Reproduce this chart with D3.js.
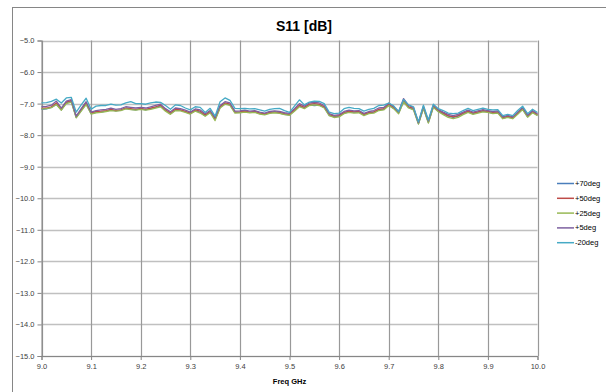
<!DOCTYPE html>
<meta charset="utf-8">
<style>
body { margin: 0; background: #fff; }
text { font-family: "Liberation Sans", Arial, sans-serif; }
.tick text { fill: #404040; font-size: 7.5px; }
</style>
<svg width="606" height="392"></svg>
<script src="https://d3js.org/d3.v7.min.js"></script>
<script>

var svg = d3.select("svg"),
    width = +svg.attr("width"),
    height = +svg.attr("height");

// frequency grid, 0.01 GHz steps from 9.0 to 10.0
var freqs = d3.range(101).map(function(i) { return 9 + i * 0.01; });

var s70 = [-7.18,-7.17,-7.12,-7.02,-7.20,-6.98,-6.92,-7.44,-7.22,-7.00,
  -7.32,-7.28,-7.27,-7.24,-7.20,-7.23,-7.21,-7.15,-7.18,-7.20,
  -7.17,-7.20,-7.16,-7.12,-7.08,-7.22,-7.32,-7.20,-7.21,-7.26,
  -7.32,-7.22,-7.28,-7.38,-7.27,-7.50,-7.12,-7.00,-7.04,-7.28,
  -7.28,-7.26,-7.28,-7.26,-7.32,-7.34,-7.29,-7.27,-7.30,-7.34,
  -7.36,-7.22,-7.08,-7.14,-7.04,-7.06,-7.05,-7.12,-7.37,-7.42,
  -7.40,-7.30,-7.26,-7.27,-7.27,-7.35,-7.30,-7.27,-7.20,-7.18,
  -7.05,-7.15,-7.30,-6.93,-7.12,-7.18,-7.64,-7.14,-7.60,-7.10,
  -7.24,-7.32,-7.40,-7.44,-7.40,-7.32,-7.26,-7.32,-7.28,-7.24,
  -7.27,-7.30,-7.28,-7.47,-7.42,-7.46,-7.32,-7.17,-7.42,-7.27,
  -7.37];

var s50 = [-7.15,-7.14,-7.10,-6.98,-7.18,-6.95,-6.90,-7.42,-7.20,-6.98,
  -7.30,-7.25,-7.24,-7.22,-7.18,-7.22,-7.20,-7.14,-7.16,-7.18,
  -7.15,-7.18,-7.14,-7.10,-7.05,-7.20,-7.30,-7.18,-7.20,-7.25,
  -7.30,-7.20,-7.24,-7.36,-7.25,-7.48,-7.10,-6.98,-7.02,-7.27,
  -7.26,-7.24,-7.27,-7.25,-7.30,-7.33,-7.28,-7.26,-7.28,-7.32,
  -7.34,-7.20,-7.05,-7.12,-7.02,-7.00,-7.02,-7.10,-7.35,-7.40,
  -7.38,-7.28,-7.24,-7.26,-7.25,-7.34,-7.28,-7.26,-7.18,-7.16,
  -7.02,-7.12,-7.28,-6.90,-7.10,-7.15,-7.62,-7.12,-7.58,-7.08,
  -7.22,-7.30,-7.38,-7.42,-7.38,-7.30,-7.24,-7.30,-7.26,-7.22,
  -7.25,-7.28,-7.26,-7.45,-7.40,-7.45,-7.30,-7.15,-7.40,-7.25,
  -7.35];

var s25 = [-7.17,-7.16,-7.13,-7.03,-7.21,-7.00,-6.95,-7.45,-7.24,-7.03,
  -7.33,-7.29,-7.28,-7.25,-7.22,-7.24,-7.22,-7.17,-7.19,-7.21,
  -7.18,-7.21,-7.18,-7.14,-7.10,-7.24,-7.34,-7.22,-7.23,-7.28,
  -7.33,-7.24,-7.30,-7.40,-7.29,-7.54,-7.14,-7.02,-7.06,-7.30,
  -7.29,-7.27,-7.29,-7.28,-7.33,-7.36,-7.31,-7.29,-7.31,-7.35,
  -7.37,-7.24,-7.10,-7.16,-7.06,-7.04,-7.06,-7.14,-7.38,-7.44,
  -7.42,-7.32,-7.28,-7.30,-7.29,-7.38,-7.32,-7.30,-7.22,-7.20,
  -7.06,-7.16,-7.32,-6.95,-7.14,-7.20,-7.65,-7.16,-7.62,-7.12,
  -7.26,-7.35,-7.44,-7.48,-7.44,-7.35,-7.28,-7.34,-7.30,-7.26,
  -7.28,-7.32,-7.30,-7.48,-7.44,-7.48,-7.34,-7.19,-7.43,-7.29,
  -7.38];

var s5 = [-7.10,-7.09,-7.05,-6.92,-7.14,-6.92,-6.87,-7.40,-7.16,-6.94,
  -7.27,-7.22,-7.20,-7.18,-7.14,-7.18,-7.16,-7.10,-7.12,-7.14,
  -7.12,-7.14,-7.10,-7.06,-7.02,-7.16,-7.26,-7.14,-7.16,-7.21,
  -7.27,-7.17,-7.20,-7.32,-7.22,-7.44,-7.06,-6.94,-6.98,-7.24,
  -7.23,-7.21,-7.24,-7.22,-7.27,-7.30,-7.25,-7.23,-7.25,-7.29,
  -7.31,-7.16,-7.00,-7.08,-6.98,-6.96,-6.98,-7.06,-7.32,-7.37,
  -7.35,-7.25,-7.21,-7.23,-7.22,-7.31,-7.25,-7.22,-7.14,-7.12,
  -6.99,-7.09,-7.26,-6.84,-7.06,-7.12,-7.60,-7.08,-7.55,-7.04,
  -7.19,-7.27,-7.34,-7.38,-7.34,-7.27,-7.21,-7.27,-7.23,-7.19,
  -7.22,-7.25,-7.23,-7.42,-7.37,-7.42,-7.27,-7.12,-7.37,-7.22,
  -7.32];

var sm20 = [-6.98,-6.97,-6.93,-6.86,-6.98,-6.82,-6.80,-7.27,-7.04,-6.83,
  -7.18,-7.08,-7.06,-7.06,-7.02,-7.05,-7.04,-6.98,-6.94,-7.00,
  -7.00,-7.02,-6.98,-6.95,-6.96,-7.06,-7.18,-7.04,-7.06,-7.14,
  -7.20,-7.10,-7.12,-7.28,-7.15,-7.40,-6.94,-6.82,-6.90,-7.15,
  -7.16,-7.15,-7.17,-7.16,-7.20,-7.24,-7.18,-7.16,-7.15,-7.22,
  -7.28,-7.08,-6.88,-7.04,-6.95,-6.92,-6.93,-7.00,-7.27,-7.32,
  -7.30,-7.16,-7.12,-7.15,-7.16,-7.24,-7.18,-7.15,-7.06,-7.05,
  -6.98,-7.07,-7.25,-6.87,-7.04,-7.10,-7.58,-7.05,-7.52,-7.02,
  -7.16,-7.22,-7.30,-7.32,-7.30,-7.22,-7.15,-7.22,-7.18,-7.14,
  -7.18,-7.20,-7.19,-7.38,-7.34,-7.38,-7.22,-7.08,-7.32,-7.18,
  -7.28];

var seriesNames = ["+70deg", "+50deg", "+25deg", "+5deg", "-20deg"];
var seriesValues = [s70, s50, s25, s5, sm20];
var colors = ["#4a7ebb", "#be4b48", "#98b954", "#7d60a0", "#46aac5"];

var xTicks = d3.range(11).map(function(i) { return 9 + i * 0.1; });
var yTicks = d3.range(11).map(function(i) { return -5 - i; });

var plotLeft = 41.5, plotRight = 537.5, plotTop = 40.5, plotBottom = 356;

var x = d3.scaleLinear().domain([9, 10]).range([plotLeft, plotRight]);
var y = d3.scaleLinear().domain([-15, -5]).range([plotBottom, plotTop]);

// chart frame
svg.append("rect")
    .attr("x", 12.5).attr("y", 7.5)
    .attr("width", 620).attr("height", 400)
    .attr("fill", "none")
    .attr("stroke", "#868686");

svg.append("text")
    .attr("x", 304).attr("y", 31)
    .attr("text-anchor", "middle")
    .style("font-size", "14px")
    .style("font-weight", "bold")
    .attr("fill", "#000")
    .text("S11 [dB]");

// gridlines
svg.append("g")
    .selectAll("line")
    .data(yTicks)
    .enter().append("line")
    .attr("x1", plotLeft).attr("x2", plotRight)
    .attr("y1", function(d) { return Math.round(y(d)) + 0.5; })
    .attr("y2", function(d) { return Math.round(y(d)) + 0.5; })
    .attr("stroke", "#c0c0c0")
    .attr("stroke-width", 1.5);

svg.append("g")
    .selectAll("line")
    .data(xTicks)
    .enter().append("line")
    .attr("x1", function(d) { return Math.round(x(d)) + 0.5; })
    .attr("x2", function(d) { return Math.round(x(d)) + 0.5; })
    .attr("y1", plotTop).attr("y2", plotBottom)
    .attr("stroke", "#999")
    .attr("stroke-width", 1.2);

var xAxis = svg.append("g")
    .attr("transform", "translate(0," + plotBottom + ")")
    .call(d3.axisBottom(x).tickValues(xTicks).tickFormat(d3.format(".1f")).tickSize(4).tickPadding(4));

var yAxis = svg.append("g")
    .attr("transform", "translate(" + plotLeft + ",0)")
    .call(d3.axisLeft(y).tickValues(yTicks).tickFormat(d3.format(".1f")).tickSize(4).tickPadding(3));

[xAxis, yAxis].forEach(function(a) {
    a.select(".domain").attr("stroke", "#868686");
    a.selectAll(".tick line").attr("stroke", "#868686");
});

svg.append("text")
    .attr("x", (plotLeft + plotRight) / 2).attr("y", 384)
    .attr("text-anchor", "middle")
    .style("font-size", "7.5px")
    .style("font-weight", "bold")
    .attr("fill", "#000")
    .text("Freq GHz");

var line = d3.line()
    .x(function(d, i) { return x(freqs[i]); })
    .y(function(d) { return y(d); });

svg.append("g")
    .selectAll("path")
    .data(seriesValues)
    .enter().append("path")
    .attr("d", line)
    .attr("fill", "none")
    .attr("stroke", function(d, i) { return colors[i]; })
    .attr("stroke-width", 1.3)
    .attr("stroke-linejoin", "round");

// legend
var legend = svg.append("g")
    .selectAll("g")
    .data(seriesNames)
    .enter().append("g")
    .attr("transform", function(d, i) { return "translate(557," + (183.5 + i * 14.8) + ")"; });

legend.append("line")
    .attr("x1", 0).attr("x2", 17)
    .attr("stroke", function(d, i) { return colors[i]; })
    .attr("stroke-width", 1.5);

legend.append("text")
    .attr("x", 18).attr("y", 2.5)
    .style("font-size", "7.5px")
    .attr("fill", "#000")
    .text(function(d) { return d; });

</script>
